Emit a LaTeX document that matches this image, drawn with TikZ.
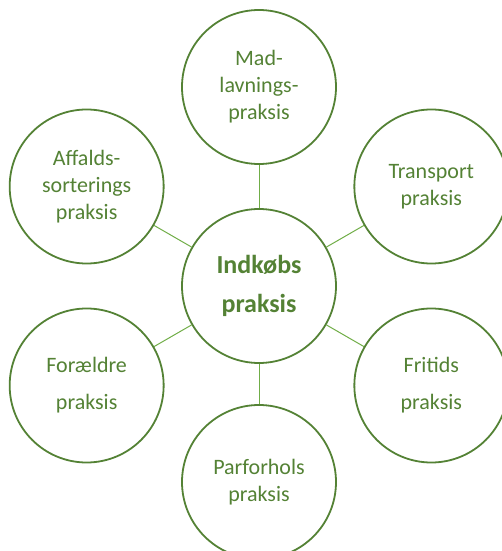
\documentclass[tikz,border=0pt]{standalone}
\usepackage{fontspec}
\setmainfont{Carlito}
\usepackage{xcolor}
\usetikzlibrary{positioning}
\definecolor{darkgreen}{HTML}{548235}
\definecolor{lightgreen}{HTML}{70AD47}
\tikzset{
    base/.style={draw=darkgreen, line width=1.8pt, circle, fill=white, text=darkgreen, align=center, inner sep=0pt, minimum size=154pt},
    hub/.style={base, font=\fontsize{26}{39}\selectfont\bfseries},
    spoke/.style={base, font=\fontsize{22}{27}\selectfont},
    widespoke/.style={base, font=\fontsize{22}{37}\selectfont},
    link/.style={draw=lightgreen, line width=1pt}
}

\begin{document}
\begin{tikzpicture}
    \useasboundingbox (-259pt,-265pt) rectangle (242pt,286pt);

    \node [hub] (Indkob) at (0,0) {Indkøbs\\praksis};
    \node [spoke] (Mad) at (90:199pt) {Mad-\\lavnings-\\praksis};
    \node [spoke] (Transport) at (30:199pt) {Transport\\praksis};
    \node [widespoke] (Fritid) at (-30:199pt) {Fritids\\praksis};
    \node [spoke] (Parforhold) at (-90:196pt) {Parforhols\\praksis};
    \node [widespoke] (Foraeldre) at (-150:199pt) {Forældre\\praksis};
    \node [spoke] (Affald) at (150:199pt) {Affalds-\\sorterings\\praksis};

    \draw [link] (Indkob) -- (Mad);
    \draw [link] (Indkob) -- (Transport);
    \draw [link] (Indkob) -- (Fritid);
    \draw [link] (Indkob) -- (Parforhold);
    \draw [link] (Indkob) -- (Foraeldre);
    \draw [link] (Indkob) -- (Affald);
\end{tikzpicture}
\end{document}
